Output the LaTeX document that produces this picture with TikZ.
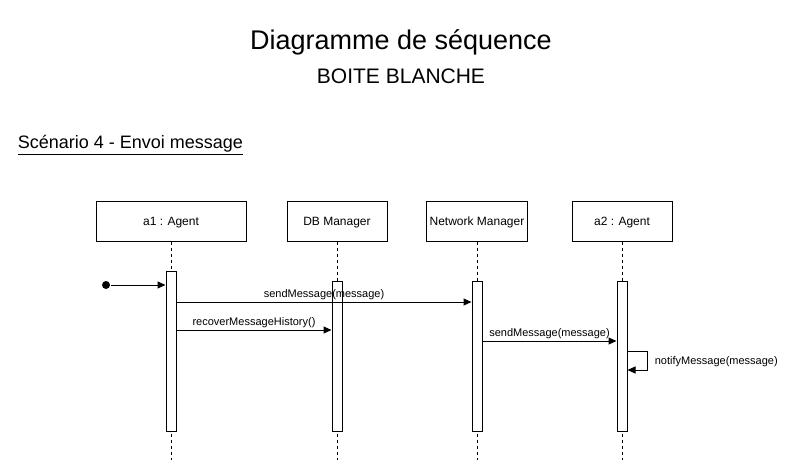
\documentclass[tikz,border=0pt]{standalone}
\usepackage{fontspec}
\setmainfont{Liberation Sans}
\usetikzlibrary{arrows.meta}

\tikzset{
	actor/.style = {draw, minimum height = 40pt, text depth = 0pt, font = \fontsize{12}{14}\selectfont},
	bar/.style = {draw, fill = white, minimum width = 10pt, inner sep = 0pt},
	msg/.style = {-{Triangle[length = 8pt, width = 7pt]}},
	lbl/.style = {font = \fontsize{11}{13}\selectfont, anchor = south, inner sep = 2pt}
}

\begin{document}
\begin{tikzpicture}[x = 1pt, y = -1pt, line width = 1pt]
	\useasboundingbox (0, 0) rectangle (804, 474);
	% titres
	\node (title) at (401, 42) {\fontsize{27}{32}\selectfont Diagramme de séquence};
	\node (subtitle) at (401, 76) {\fontsize{21}{25}\selectfont BOITE BLANCHE};
	\node[anchor = west] (scenario) at (14, 145) {\fontsize{18}{22}\selectfont \underline{Scénario 4 - Envoi message}};
	% objets
	\node[actor, minimum width = 150pt] (a1) at (171, 221) {a1 : Agent};
	\node[actor, minimum width = 100pt] (db) at (337, 221) {DB Manager};
	\node[actor, minimum width = 100pt] (nm) at (477, 221) {Network Manager};
	\node[actor, minimum width = 100pt] (a2) at (622, 221) {a2 : Agent};
	% lignes de vie
	\foreach \obj in {a1, db, nm, a2} {
		\coordinate (\obj end) at (\obj.south |- 0, 460);
		\draw[dash pattern = on 3pt off 3pt] (\obj.south) -- (\obj end);
	}
	% activations
	\node[bar, minimum height = 160pt] (a1bar) at (171, 351) {};
	\node[bar, minimum height = 150pt] (dbbar) at (337, 356) {};
	\node[bar, minimum height = 150pt] (nmbar) at (477, 356) {};
	\node[bar, minimum height = 150pt] (a2bar) at (622, 356) {};
	% messages
	\node[circle, fill, inner sep = 0pt, minimum size = 8pt] (start) at (106, 285) {};
	\draw[msg] (start) -- (a1bar.west |- start);
	\draw[msg] (a1bar.east |- 0, 302) -- node[lbl]{\vphantom{g}sendMessage(message)} (nmbar.west |- 0, 302);
	\draw[msg] (a1bar.east |- 0, 330) -- node[lbl]{recoverMessageHistory()} (dbbar.west |- 0, 330);
	\draw[msg] (nmbar.east |- 0, 341) -- node[lbl]{sendMessage(message)} (a2bar.west |- 0, 341);
	\coordinate (self) at (647, 351);
	\draw[msg] (a2bar.east |- self) -- (self) -- ++(0, 19) -- (a2bar.east |- 0, 370);
	\node[anchor = west, font = \fontsize{11}{13}\selectfont] (notify) at (651, 362) {notifyMessage(message)};
\end{tikzpicture}
\end{document}
